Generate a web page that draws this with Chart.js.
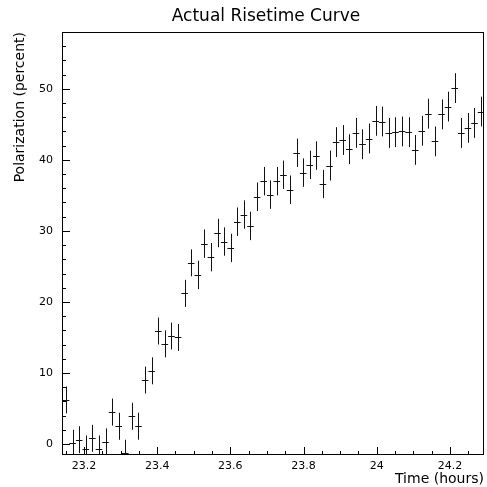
<!DOCTYPE html>
<html>
<head>
<meta charset="utf-8">
<title>Actual Risetime Curve</title>
<script src="https://cdn.jsdelivr.net/npm/chart.js@4"></script>
<style>
  html, body { margin: 0; padding: 0; background: #fff; }
  #chart { display: block; }
</style>
</head>
<body>
<canvas id="chart" width="487" height="487"></canvas>
<script>
// ── Data ───────────────────────────────────────
const times = [
  23.151, 23.169, 23.187, 23.205, 23.223, 23.241, 23.259, 23.277,
  23.295, 23.313, 23.331, 23.349, 23.367, 23.385, 23.403, 23.421,
  23.439, 23.457, 23.475, 23.493, 23.511, 23.529, 23.547, 23.565,
  23.583, 23.601, 23.619, 23.637, 23.655, 23.673, 23.691, 23.709,
  23.727, 23.745, 23.763, 23.781, 23.799, 23.817, 23.835, 23.853,
  23.871, 23.889, 23.907, 23.925, 23.943, 23.961, 23.979, 23.997,
  24.015, 24.033, 24.051, 24.069, 24.087, 24.105, 24.123, 24.141,
  24.159, 24.177, 24.195, 24.213, 24.231, 24.249, 24.267, 24.285
];
const polarization = [
  6.2, 0.1, 0.6, -0.7, 0.8, -0.7, 0.3, 4.5,
  2.5, -1.3, 3.9, 2.5, 9.0, 10.3, 15.9, 14.1,
  15.2, 15.0, 21.2, 25.5, 23.8, 28.2, 26.3, 29.7,
  28.5, 27.6, 31.3, 32.3, 30.7, 34.8, 37.0, 35.1,
  37.0, 37.9, 35.8, 41.0, 38.2, 39.3, 40.6, 36.6,
  39.2, 42.5, 42.8, 41.5, 43.8, 42.2, 43.0, 45.5,
  45.4, 43.8, 43.9, 44.0, 43.9, 41.4, 44.1, 46.5,
  42.6, 46.4, 47.5, 50.1, 43.8, 44.5, 45.2, 46.8
];
const polErr = [
  1.9, 1.9, 1.9, 1.9, 1.9, 1.9, 1.9, 1.9,
  1.9, 1.9, 1.9, 1.9, 1.9, 1.9, 1.9, 1.9,
  1.9, 1.9, 1.9, 1.9, 2.0, 2.0, 2.0, 2.0,
  2.0, 2.0, 2.0, 2.0, 2.0, 2.0, 2.0, 2.0,
  2.0, 2.0, 2.0, 2.0, 2.0, 2.0, 2.0, 2.0,
  2.1, 2.1, 2.1, 2.1, 2.1, 2.1, 2.1, 2.1,
  2.1, 2.1, 2.1, 2.1, 2.1, 2.1, 2.1, 2.1,
  2.1, 2.1, 2.1, 2.1, 2.1, 2.1, 2.1, 2.1
];
const timeHalfBin = 0.009;

const FONT = "'DejaVu Sans', sans-serif";

// ── Plugin: frame, inward ticks, error bars, title ──
const histoStyle = {
  id: 'histoStyle',
  afterDatasetsDraw(chart) {
    const { ctx, chartArea: a, scales: { x, y } } = chart;

    // error bars (clipped to frame)
    ctx.save();
    ctx.beginPath();
    ctx.rect(a.left, a.top, a.right - a.left, a.bottom - a.top);
    ctx.clip();
    ctx.strokeStyle = '#111';
    ctx.lineWidth = 1;
    ctx.beginPath();
    times.forEach((t, i) => {
      const px = Math.round(x.getPixelForValue(t)) + 0.5;
      const py = Math.round(y.getPixelForValue(polarization[i])) + 0.5;
      const yTop = y.getPixelForValue(polarization[i] + polErr[i]);
      const yBot = y.getPixelForValue(polarization[i] - polErr[i]);
      const xL = x.getPixelForValue(t - timeHalfBin);
      const xR = x.getPixelForValue(t + timeHalfBin);
      ctx.moveTo(px, yTop); ctx.lineTo(px, yBot);
      ctx.moveTo(xL, py);   ctx.lineTo(xR, py);
    });
    ctx.stroke();
    ctx.restore();

    // frame
    ctx.save();
    ctx.strokeStyle = '#000';
    ctx.lineWidth = 1;
    ctx.strokeRect(a.left + 0.5, a.top + 0.5, a.right - a.left - 1, a.bottom - a.top - 1);

    // tick marks pointing inside
    ctx.beginPath();
    x.ticks.forEach(tk => {
      if (tk.value < x.min || tk.value > x.max) return;
      const px = Math.round(x.getPixelForValue(tk.value)) + 0.5;
      const len = tk.label !== '' ? 8 : 4;
      ctx.moveTo(px, a.bottom); ctx.lineTo(px, a.bottom - len);
    });
    y.ticks.forEach(tk => {
      if (tk.value < y.min || tk.value > y.max) return;
      const py = Math.round(y.getPixelForValue(tk.value)) + 0.5;
      const len = tk.label !== '' ? 8 : 4;
      ctx.moveTo(a.left, py); ctx.lineTo(a.left + len, py);
    });
    ctx.stroke();

    // title over the frame
    ctx.fillStyle = '#000';
    ctx.font = '17px ' + FONT;
    ctx.textAlign = 'center';
    ctx.textBaseline = 'middle';
    ctx.fillText('Actual Risetime Curve', 266, 17);
    ctx.restore();
  }
};

const isMultiple = (v, step) => Math.abs(v / step - Math.round(v / step)) < 1e-6;

new Chart(document.getElementById('chart'), {
  type: 'scatter',
  data: {
    datasets: [{
      data: times.map((t, i) => ({ x: t, y: polarization[i] })),
      pointRadius: 0,
      showLine: false,
    }],
  },
  options: {
    responsive: false,
    animation: false,
    layout: { padding: { top: 32, right: 3, left: 0, bottom: 0 } },
    plugins: {
      legend: { display: false },
      tooltip: { enabled: false },
    },
    scales: {
      x: {
        type: 'linear',
        min: 23.14,
        max: 24.293,
        grid: { display: false, drawTicks: false },
        border: { display: false },
        ticks: {
          stepSize: 0.05,
          includeBounds: false,
          autoSkip: false,
          maxRotation: 0,
          padding: 5,
          color: '#000',
          font: { family: FONT, size: 11 },
          callback: v => isMultiple(v, 0.2) ? String(Number(v.toFixed(1))) : '',
        },
        title: {
          display: true,
          text: 'Time (hours)',
          align: 'end',
          color: '#000',
          padding: { top: 0, bottom: -1 },
          font: { family: FONT, size: 14 },
        },
        afterFit: s => { s.height = 32; },
      },
      y: {
        min: -1.55,
        max: 58,
        grid: { display: false, drawTicks: false },
        border: { display: false },
        ticks: {
          stepSize: 2,
          includeBounds: false,
          autoSkip: false,
          padding: 9,
          color: '#000',
          font: { family: FONT, size: 11 },
          callback: v => isMultiple(v, 10) ? String(Math.round(v)) : '',
        },
        title: {
          display: true,
          text: 'Polarization (percent)',
          align: 'end',
          color: '#000',
          padding: { top: 12, bottom: 0 },
          font: { family: FONT, size: 14 },
        },
        afterFit: s => { s.width = 62; },
      },
    },
  },
  plugins: [histoStyle],
});
</script>
</body>
</html>
